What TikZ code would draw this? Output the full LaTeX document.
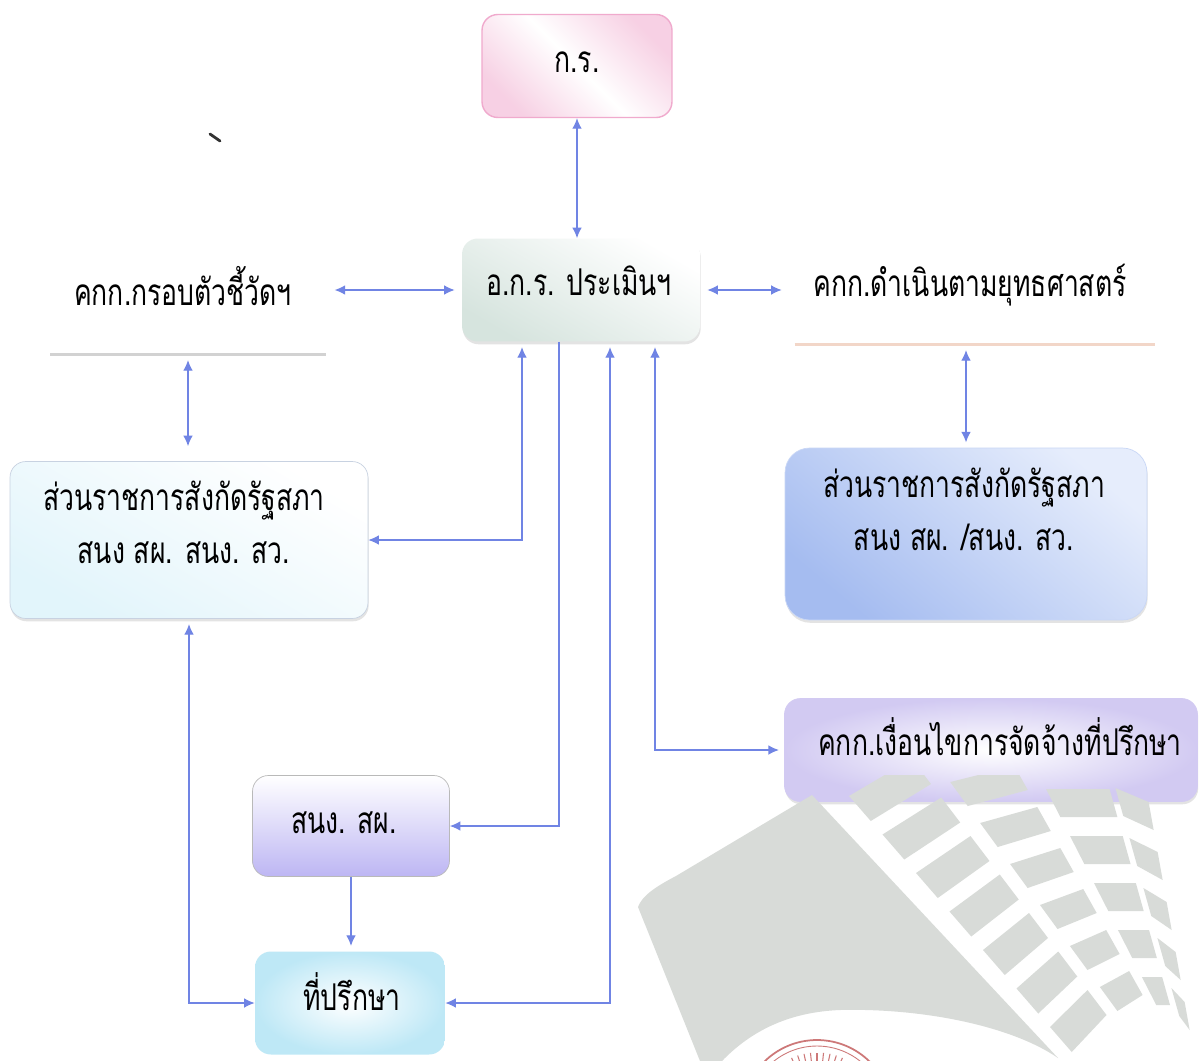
\documentclass[tikz,border=0pt]{standalone}
\usepackage{fontspec}
\newfontfamily\thaifont[Script=Thai,FakeStretch=0.72]{Loma}
\usetikzlibrary{arrows.meta,calc,shadows}

\definecolor{flecha}{RGB}{112,132,228}
\definecolor{rosa}{RGB}{240,170,205}
\definecolor{verdegris}{RGB}{214,228,222}
\definecolor{azul}{RGB}{165,188,240}
\definecolor{azulclaro}{RGB}{230,237,252}
\definecolor{lila}{RGB}{210,202,242}
\definecolor{celeste}{RGB}{190,232,246}
\definecolor{bordegris}{RGB}{200,210,225}
\definecolor{durazno}{RGB}{242,214,200}
\definecolor{marca}{RGB}{216,219,216}
\definecolor{sello}{RGB}{205,120,120}

\tikzset{
  caja/.style={rectangle, rounded corners=9pt, inner sep=0pt},
  sombra/.style={drop shadow={opacity=0.22, shadow xshift=0.4pt, shadow yshift=-1.6pt}},
  texto/.style={font=\thaifont\fontsize{21}{30}\selectfont, inner sep=0pt, anchor=base},
  enlace/.style={draw=flecha, line width=0.7pt},
}

\begin{document}
\begin{tikzpicture}[x=0.02cm, y=-0.02cm, >={Latex[length=6pt,width=5.5pt]}]
	\fill[white] (0,0) rectangle (1203,1061);
	\useasboundingbox (0,0) rectangle (1203,1061);

	% Cajas
	\node at (577,66) [caja, minimum width=3.8cm, minimum height=2.06cm, draw=rosa, line width=0.8pt, top color=rosa!55, bottom color=rosa!55, middle color=white, shading angle=-45] (kr) {};
	\node at (581,290) [caja, sombra, minimum width=4.76cm, minimum height=2.06cm, top color=white, bottom color=verdegris, shading angle=-30] (akr) {};
	\node at (188,308) [caja, minimum width=5.5cm, minimum height=1.86cm, fill=white] (gr) {};
	\node at (975,303) [caja, minimum width=7.2cm, minimum height=1.66cm, fill=white] (ys) {};
	\node at (189,540) [caja, sombra, minimum width=7.16cm, minimum height=3.14cm, draw=bordegris, top color=white, bottom color=celeste!45, shading angle=-30] (srL) {};
	\node at (966,534) [caja, sombra, rounded corners=14pt, minimum width=7.24cm, minimum height=3.44cm, draw=azul!60, top color=azulclaro, bottom color=azul, shading angle=-40] (srR) {};
	\node at (991,750) [caja, sombra, minimum width=8.26cm, minimum height=2.06cm, draw=lila, inner color=white, outer color=lila] (ng) {};
	\node at (351,826) [caja, minimum width=3.94cm, minimum height=2.02cm, draw=gray!55, top color=white, bottom color=lila!90!blue] (snp) {};
	\node at (350,1003) [caja, minimum width=3.8cm, minimum height=2.06cm, inner color=white, outer color=celeste] (tp) {};

	% Lineas inferiores de las cajas abiertas
	\draw[gray!35, line width=1.8pt] (gr.south west) -- (gr.south east);
	\draw[durazno, line width=1.8pt] (ys.south west) -- (ys.south east);

	% Textos
	\node at (577,72) [texto] (t-kr) {ก.ร.};
	\node at (579,295) [texto] (t-akr) {อ.ก.ร. ประเมินฯ};
	\node at (183,305) [texto] (t-gr) {คกก.กรอบตัวชี้วัดฯ};
	\node at (970,296) [texto] (t-ys) {คกก.ดำเนินตามยุทธศาสตร์};
	\node at (184,510) [texto] (t-srL1) {ส่วนราชการสังกัดรัฐสภา};
	\node at (184,563) [texto] (t-srL2) {สนง สผ. สนง. สว.};
	\node at (964,497) [texto] (t-srR1) {ส่วนราชการสังกัดรัฐสภา};
	\node at (964,550) [texto] (t-srR2) {สนง สผ. /สนง. สว.};
	\node at (1000,755) [texto] (t-ng) {คกก.เงื่อนไขการจัดจ้างที่ปรึกษา};
	\node at (344,833) [texto] (t-snp) {สนง. สผ.};
	\node at (352,1010) [texto] (t-tp) {ที่ปรึกษา};

	% Flechas
	\draw[enlace,<->] (kr.south) -- (kr.south |- akr.north);
	\draw[enlace,<->, shorten <=4pt, shorten >=5pt] (akr.west) -- (akr.west -| gr.east);
	\draw[enlace,<->, shorten <=4pt, shorten >=0.26cm] (akr.east) -- (akr.east -| ys.west);
	\draw[enlace,<->, shorten <=3pt, shorten >=0.3cm] (gr.south) -- (gr.south |- srL.north);
	\draw[enlace,<->, shorten <=3pt, shorten >=3pt] (srR.north) -- (srR.north |- ys.south);
	\draw[enlace,<->, shorten >=3pt] (srL.east) -| ($(akr.south)+(-59,0)$);
	\draw[enlace,->] ($(akr.south)+(-22,0)$) |- (snp.east);
	\draw[enlace,<->, shorten >=3pt] (tp.east) -| ($(akr.south)+(29,0)$);
	\draw[enlace,<->, shorten <=3pt, shorten >=3pt] ($(akr.south)+(74,0)$) |- (ng.west);
	\draw[enlace,<->, shorten <=3pt] (srL.south) |- (tp.west);
	\draw[enlace,->, shorten >=3pt] (snp.south) -- (snp.south |- tp.north);

	% Trazo suelto
	\draw[black!80, line width=1.6pt, line cap=round] (210,134) -- (220,141);

	% Marca de agua
	\begin{scope}
		\clip (0,775) rectangle (1203,1061);
		\fill[marca] (638,907) -- (700,1061) -- (722,1061) .. controls (752,1030) and (790,1012) .. (840,1010) .. controls (920,1008) and (1010,1025) .. (1058,1058) -- (812,795) -- (676,876) .. controls (655,887) and (642,896) .. (638,907) -- cycle;
		\foreach \xl/\yl/\ml/\xr/\yr/\mr/\de/\la/\ti/\pa/\nn in {
			983/950/0.87/1029/913/0.76/-37/25/796/38.5/6,
			1040/905/0.73/1081/885/0.56/-16/24/782/41/5,
			1094/883/0.51/1135/880/0.28/0/28/789/47/4,
			1142/883/0.28/1165/893/0.18/14/28/788/50/4}
		\foreach \k in {0,...,\nn} {
			\pgfmathsetmacro{\t}{\ti+\k*\pa}
			\fill[marca] ({\xl+\ml*(\t-\yl)},\t) -- ({\xr+\mr*(\t+(\de)-\yr)},{\t+(\de)}) -- ({\xr+\mr*(\t+(\de)+\la-\yr)},{\t+(\de)+\la}) -- ({\xl+\ml*(\t+\la-\yl)},{\t+\la}) -- cycle;
		}
		% Sello
		\draw[sello, line width=1pt] (817,1115) circle[radius=1.5cm];
		\draw[sello, line width=0.5pt] (817,1115) circle[radius=1.38cm];
		\foreach \a in {66,72,...,114}
			\draw[sello, line width=0.6pt] ($(817,1115)+(\a:0.9cm)$) -- ($(817,1115)+(\a:1.25cm)$);
	\end{scope}
\end{tikzpicture}
\end{document}
